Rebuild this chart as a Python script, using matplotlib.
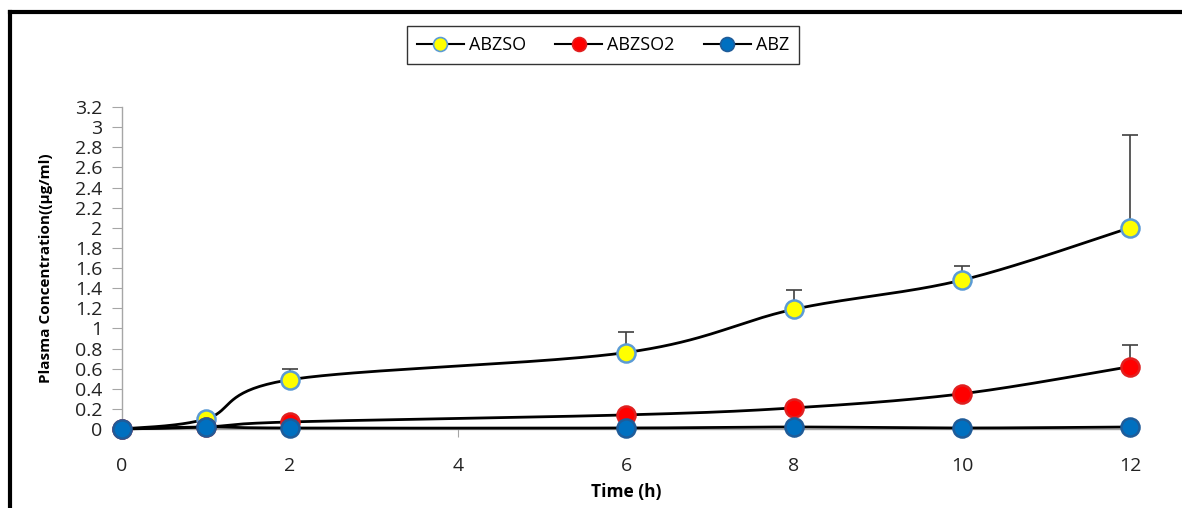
import numpy as np
import matplotlib
matplotlib.use("Agg")
import matplotlib.pyplot as plt
from matplotlib.lines import Line2D

plt.rcParams['font.family'] = ['Open Sans', 'DejaVu Sans']

time_h = [0, 1, 2, 6, 8, 10, 12]
abzso = [0.0, 0.10, 0.49, 0.76, 1.19, 1.48, 2.00]
abzso_err = [0.0, 0.0, 0.11, 0.20, 0.19, 0.14, 0.92]
abzso2 = [0.0, 0.02, 0.07, 0.14, 0.21, 0.35, 0.62]
abzso2_err = [0.0, 0.0, 0.0, 0.0, 0.0, 0.0, 0.21]
abz = [0.0, 0.02, 0.01, 0.01, 0.02, 0.01, 0.02]

x_ticks = [0, 2, 4, 6, 8, 10, 12]
y_ticks = [round(0.2 * i, 1) for i in range(17)]
y_tick_labels = ['0', '0.2', '0.4', '0.6', '0.8', '1', '1.2', '1.4', '1.6', '1.8',
                 '2', '2.2', '2.4', '2.6', '2.8', '3', '3.2']


def smooth(xs, ys, n=40):
    """Excel-like smoothed line (Bezier with Catmull-Rom control points)."""
    P = np.column_stack([xs, ys]).astype(float)
    out = []
    for i in range(len(P) - 1):
        p0 = P[i - 1] if i > 0 else P[i]
        p1 = P[i]
        p2 = P[i + 1]
        p3 = P[i + 2] if i + 2 < len(P) else P[i + 1]
        c1 = p1 + (p2 - p0) / 6.0
        c2 = p2 - (p3 - p1) / 6.0
        t = np.linspace(0, 1, n)[:, None]
        seg = ((1 - t) ** 3) * p1 + 3 * ((1 - t) ** 2) * t * c1 + 3 * (1 - t) * t ** 2 * c2 + t ** 3 * p2
        out.append(seg if i == 0 else seg[1:])
    S = np.vstack(out)
    return S[:, 0], S[:, 1]


fig = plt.figure(figsize=(11.82, 5.08), dpi=100)
ax = fig.add_axes([122 / 1182, 79 / 508, (1130 - 122) / 1182, (429 - 107) / 508])

series = [
    (abzso, abzso_err, '#FFFF00', '#5B9BD5', 'ABZSO'),
    (abzso2, abzso2_err, '#FF0000', '#E02020', 'ABZSO2'),
    (abz, None, '#0070C0', '#1F5C99', 'ABZ'),
]

z = 3
for ys, err, fc, ec, lab in series:
    if err is not None:
        xe = [t for t, e in zip(time_h, err) if e > 0]
        ye = [v for v, e in zip(ys, err) if e > 0]
        ee = [e for e in err if e > 0]
        ax.errorbar(xe, ye, yerr=[[0] * len(ee), ee], fmt='none', ecolor='#404040',
                    elinewidth=1.2, capsize=6, capthick=1.2, zorder=z, clip_on=False)
    sx, sy = smooth(time_h, ys)
    ax.plot(sx, sy, color='black', lw=2.0, zorder=z + 0.5, clip_on=False)
    ax.plot(time_h, ys, linestyle='none', marker='o', markersize=13,
            markerfacecolor=fc, markeredgecolor=ec, markeredgewidth=1.8,
            zorder=z + 1, clip_on=False)
    z += 2

ax.set_xlim(0, 12)
ax.set_ylim(0, 3.2)
ax.set_xticks(x_ticks)
ax.set_xticklabels([str(v) for v in x_ticks], fontsize=14, color='#222222')
ax.set_yticks(y_ticks)
ax.set_yticklabels(y_tick_labels, fontsize=14, color='#222222')
ax.tick_params(axis='y', direction='out', length=7, color='#A6A6A6', pad=7)
ax.tick_params(axis='x', direction='out', length=6, color='#A6A6A6', pad=14)
for s in ['top', 'right']:
    ax.spines[s].set_visible(False)
for s in ['left', 'bottom']:
    ax.spines[s].set_color('#A6A6A6')
    ax.spines[s].set_linewidth(1.0)

ax.set_xlabel('Time (h)', fontsize=12.5, fontweight='bold', labelpad=6)
ax.set_ylabel('Plasma Concentration((µg/ml)', fontsize=11, fontweight='bold', labelpad=16)

handles = []
for ys, err, fc, ec, lab in series:
    handles.append(Line2D([0], [0], color='black', lw=1.5, marker='o', markersize=10,
                          markerfacecolor=fc, markeredgecolor=ec, markeredgewidth=1.2,
                          label=lab))
leg = fig.legend(handles=handles, loc='center', bbox_to_anchor=(603 / 1182, 1 - 45 / 508),
                 ncol=3, frameon=True, fancybox=False, fontsize=13, handlelength=2.6,
                 columnspacing=1.6, borderpad=0.55, handletextpad=0.3, borderaxespad=0)
leg.get_frame().set_edgecolor('black')
leg.get_frame().set_linewidth(1.0)

# outer frame (left and top edges)
fig.add_artist(Line2D([10 / 1182, 10 / 1182], [0, 1 - 12 / 508], transform=fig.transFigure,
                      color='black', lw=3))
fig.add_artist(Line2D([10 / 1182, 1], [1 - 12 / 508, 1 - 12 / 508], transform=fig.transFigure,
                      color='black', lw=3))

fig.savefig('out.png', dpi=100)
